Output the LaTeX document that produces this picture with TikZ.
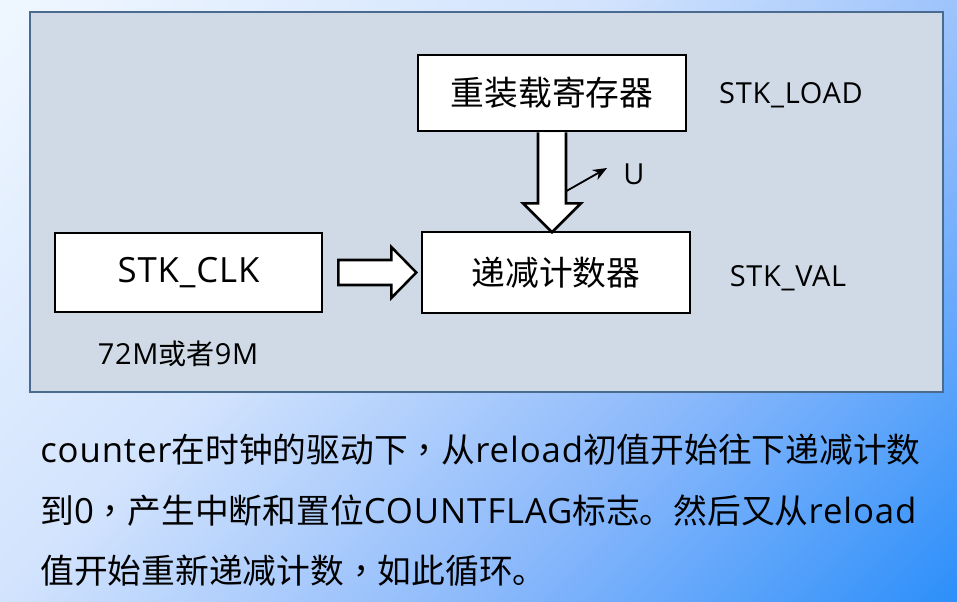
\documentclass[tikz,border=0pt]{standalone}
\usepackage{fontspec}
\setmainfont{Open Sans}[Scale=1.03, LetterSpace=2.5]
\newfontfamily\cjk{Noto Sans CJK SC}
\newfontfamily\cjktc{Noto Sans CJK TC}
\usepackage{xcolor}
\usetikzlibrary{arrows, arrows.meta, calc}

\definecolor{panelfill}{HTML}{D0DAE7}
\definecolor{panelline}{HTML}{4A6A8F}
\definecolor{bgtop}{HTML}{EEF6FF}
\definecolor{bgmid}{HTML}{D2E3FD}
\definecolor{bgdeep}{HTML}{8AB8FB}
\definecolor{bgbot}{HTML}{2A8EFA}
\pgfdeclarehorizontalshading{bgshade}{100bp}{color(0bp)=(bgtop); color(16bp)=(bgtop);
  color(42bp)=(bgmid); color(64bp)=(bgdeep); color(86bp)=(bgbot); color(100bp)=(bgbot)}

\newcommand{\virgula}{{\cjktc ，}}

\tikzset{
  panou/.style={draw=panelline, fill=panelfill, line width=1.6pt},
  bloc/.style={draw, fill=white, line width=1.8pt, inner sep=0pt,
    font=\fontsize{24}{28}\selectfont},
  eticheta/.style={inner sep=0pt, font=\fontsize{20}{24}\selectfont},
  linie/.style={anchor=west, inner sep=0pt, font=\fontsize{24}{28}\selectfont},
  sageata/.style={draw, fill=white, line width=1.8pt, line join=miter}
}

\begin{document}
\begin{tikzpicture}[x=0.025cm, y=-0.025cm, >=stealth]
    % Fundal
    \shade[shading=bgshade, shading angle=-45] (0,0) rectangle (957,602);
    \useasboundingbox (0,0) rectangle (957,602);
    \draw[panou] (30,12) rectangle (943,392);

    % Noduri
    \node[bloc, minimum width=6.7cm, minimum height=1.9cm] (reload) at (552,93) {\cjk 重装载寄存器};
    \node[bloc, minimum width=6.7cm, minimum height=2.025cm] (counter) at (556,272.5) {\cjk 递减计数器};
    \node[bloc, minimum width=6.675cm, minimum height=1.975cm] (clk) at (188.5,272.5) {STK\_CLK};
    \node[eticheta] (load) at (791,95) {STK\_LOAD};
    \node[eticheta] (val) at (788,278) {STK\_VAL};
    \node[eticheta] (freq) at (178,354) {72M{\cjk 或者}9M};
    \node[eticheta] (u) at (634,174) {U};

    % Sageti
    \draw[sageata] ($(reload.south)+(-14,0)$) -- ++(0,71) -- ++(-15,0) -- ++(29,29)
        -- ++(29,-29) -- ++(-15,0) -- ++(0,-71);
    \draw[sageata] ($(clk.east)+(15,-12.5)$) -- ++(53,0) -- ++(0,-13) -- ++(25,25.5)
        -- ++(-25,25.5) -- ++(0,-13) -- ++(-53,0) -- cycle;
    \coordinate (ax) at ($(reload.south)+(14,59)$);
    \coordinate (uvarf) at (607,168);
    \draw[-{Stealth[length=10pt, width=8pt]}, line width=1.3pt] (ax) -- (uvarf);

    % Text
    \node[linie] (rand1) at (40,450) {counter{\cjk 在时钟的驱动下}\virgula{\cjk 从}reload{\cjk 初值开始往下递减计数}};
    \node[linie] (rand2) at (40,511) {{\cjk 到}0\virgula{\cjk 产生中断和置位}COUNTFLAG{\cjk 标志。然后又从}reload};
    \node[linie] (rand3) at (40,571) {{\cjk 值开始重新递减计数}\virgula{\cjk 如此循环。}};
\end{tikzpicture}
\end{document}
